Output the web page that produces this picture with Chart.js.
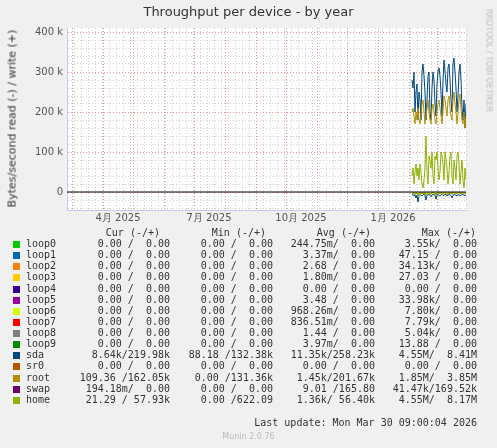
<!DOCTYPE html>
<html><head><meta charset="utf-8">
<script src="https://cdn.jsdelivr.net/npm/chart.js@4/dist/chart.umd.min.js"></script>
<style>
body{margin:0;background:#f0f0f0;width:497px;height:448px;overflow:hidden;font-family:"DejaVu Sans",sans-serif;}
#wrap{position:relative;width:497px;height:448px;}
canvas{position:absolute;left:0;top:0;}
.t{position:absolute;white-space:pre;color:#333;}
.m{font-family:"DejaVu Sans Mono",monospace;font-size:10px;}
.sq{position:absolute;width:7px;height:7px;}
</style></head><body>
<div id="wrap"><canvas id="c" width="497" height="448"></canvas></div>
<script>
// time axis: day index, day 0 = 2025-02-24
const startDay = 345; // 2026-02-04
const sdaWrite = [280,260,300,200,250,270,180,250,230,180,300,320,290,250,180,230,290,300,200,180,260,300,280,220,190,270,300,310,290,250,190,280,330,300,270,250,310,320,280,230,200,320,335,300,260,200,240,300,320,280,210,180,230,160,220];
const rootWrite = [200,210,190,170,200,180,210,180,170,190,220,230,200,170,190,210,230,200,180,170,210,220,200,180,170,200,220,230,210,190,170,200,240,230,210,190,230,240,210,190,180,230,250,220,200,170,200,230,245,210,180,170,200,160,190];
const homeWrite = [40,60,20,50,70,40,60,30,70,50,20,10,30,60,140,50,20,90,80,60,100,40,20,90,80,100,60,30,50,100,90,70,30,100,80,60,20,50,90,100,40,20,80,60,30,90,100,70,20,50,80,30,10,60,30];
const sdaRead = [-8,-6,-10,-7,-15,-8,-25,-9,-6,-8,-10,-7,-6,-8,-20,-9,-7,-6,-8,-12,-7,-6,-8,-9,-18,-7,-6,-8,-10,-7,-6,-9,-8,-6,-7,-10,-8,-6,-7,-9,-15,-8,-6,-7,-8,-10,-6,-7,-9,-8,-6,-7,-8,-9,-7];
const rootRead = [-2,-4,-1,-6,-2,-3,-8,-2,-1,-5,-2,-3,-1,-2,-10,-3,-1,-2,-4,-6,-2,-1,-3,-2,-7,-2,-1,-3,-4,-2,-1,-5,-2,-1,-3,-8,-2,-1,-3,-2,-6,-2,-1,-3,-2,-4,-1,-2,-3,-2,-1,-3,-2,-4,-2];
const homeRead = [-3,-1,-5,-2,-4,-1,-12,-3,-2,-1,-4,-2,-6,-1,-8,-2,-3,-1,-5,-2,-3,-1,-2,-10,-3,-1,-4,-2,-1,-3,-2,-6,-1,-3,-2,-1,-4,-2,-5,-1,-3,-2,-1,-4,-2,-1,-3,-2,-1,-5,-2,-3,-1,-2,-3];
const monthStarts = [5,36,66,97,127,158,189,219,250,280,311,342,370];
const labelDays = [51,142,234,326];
const labelTexts = ["4月 2025","7月 2025","10月 2025","1月 2026"];
const yTickLabels = {0:"0",100000:"100 k",200000:"200 k",300000:"300 k",400000:"400 k"};

const names=["loop0","loop1","loop2","loop3","loop4","loop5","loop6","loop7","loop8","loop9","sda","sr0","root","swap","home"];
const colors=["#00cc00","#0066b3","#ff8000","#ffcc00","#330099","#990099","#ccff00","#ff0000","#808080","#008f00","#00487d","#b35a00","#b38f00","#6b006b","#8fb300"];
const curCol=["0.00 /  0.00","0.00 /  0.00","0.00 /  0.00","0.00 /  0.00","0.00 /  0.00","0.00 /  0.00","0.00 /  0.00","0.00 /  0.00","0.00 /  0.00","0.00 /  0.00","8.64k/219.98k","0.00 /  0.00","109.36 /162.05k","194.18m/  0.00","21.29 / 57.93k"];
const minCol=["0.00 /  0.00","0.00 /  0.00","0.00 /  0.00","0.00 /  0.00","0.00 /  0.00","0.00 /  0.00","0.00 /  0.00","0.00 /  0.00","0.00 /  0.00","0.00 /  0.00","88.18 /132.38k","0.00 /  0.00","0.00 /131.36k","0.00 /  0.00","0.00 /622.09"];
const avgCol=["244.75m/  0.00","3.37m/  0.00","2.68 /  0.00","1.80m/  0.00","0.00 /  0.00","3.48 /  0.00","968.26m/  0.00","836.51m/  0.00","1.44 /  0.00","3.97m/  0.00","11.35k/258.23k","0.00 /  0.00","1.45k/201.67k","9.01 /165.80","1.36k/ 56.40k"];
const maxCol=["3.55k/  0.00","47.15 /  0.00","34.13k/  0.00","27.03 /  0.00","0.00 /  0.00","33.98k/  0.00","7.80k/  0.00","7.79k/  0.00","5.04k/  0.00","13.88 /  0.00","4.55M/  8.41M","0.00 /  0.00","1.85M/  3.85M","41.47k/169.52k","4.55M/  8.17M"];

const pts = (arr)=>arr.map((v,i)=>({x:startDay+i,y:v*1000}));
const xTicks=[];
for(let d=0;d<=399;d+=7) xTicks.push({value:d,kind:'w'});
monthStarts.forEach(d=>xTicks.push({value:d,kind:'m'}));
labelDays.forEach((d,i)=>xTicks.push({value:d,kind:'l',txt:labelTexts[i]}));
xTicks.sort((a,b)=>a.value-b.value);

new Chart(document.getElementById('c'),{
 type:'line',
 data:{datasets:[
  {data:[{x:0,y:0},{x:399,y:0}],borderColor:'#000',borderWidth:1},
  {data:pts(homeWrite),borderColor:'#8fb300'},
  {data:pts(homeRead),borderColor:'#8fb300'},
  {data:pts(rootWrite),borderColor:'#b38f00'},
  {data:pts(rootRead),borderColor:'#b38f00'},
  {data:pts(sdaWrite),borderColor:'#00487d'},
  {data:pts(sdaRead),borderColor:'#00487d'}
 ]},
 options:{animation:false,responsive:false,
  elements:{point:{radius:0},line:{borderWidth:1,tension:0}},
  plugins:{legend:{display:false},tooltip:{enabled:false}},
  layout:{padding:{left:0,right:31,top:28,bottom:218}},
  scales:{
   x:{type:'linear',min:0,max:399,
    afterBuildTicks:s=>{s.ticks=xTicks.map(t=>({value:t.value,kind:t.kind,txt:t.txt}));},
    afterFit:s=>{s.height=20;},
    ticks:{autoSkip:false,maxRotation:0,color:'#555',font:{family:'DejaVu Sans',size:10},padding:2,
      callback:function(v,i,ticks){const t=xTicks[i];return t&&t.kind==='l'?t.txt:'';}},
    grid:{drawTicks:false,lineWidth:1,
      color:c=>{const t=xTicks[c.index];if(!t)return 'transparent';return t.kind==='m'?'rgba(230,120,120,0.8)':t.kind==='w'?'#d0d0d0':'transparent';}},
    border:{color:'#c8c8f0',dash:[1,2]}
   },
   y:{min:-45000,max:410000,
    afterBuildTicks:s=>{const a=[];for(let v=-40000;v<=400000;v+=20000)a.push({value:v});s.ticks=a;},
    afterFit:s=>{s.width=67;},
    ticks:{autoSkip:false,color:'#555',font:{family:'DejaVu Sans',size:10},padding:4,
      callback:v=>yTickLabels[v]!==undefined?yTickLabels[v]:''},
    grid:{drawTicks:false,color:c=>c.tick&&c.tick.value%100000===0?'rgba(230,120,120,0.8)':'#d0d0d0'},
    border:{color:'#c8c8f0',dash:[1,2]}
   }
  }
 },
 plugins:[{id:'bg',beforeDraw:ch=>{const a=ch.chartArea,x=ch.ctx;x.save();x.fillStyle='#fff';x.fillRect(a.left,a.top,a.right-a.left,a.bottom-a.top);x.restore();}}]
});

const w=document.getElementById('wrap');
function add(html,style,cls){const d=document.createElement('div');d.className='t '+(cls||'');d.textContent=html;d.setAttribute('style',style);w.appendChild(d);return d;}
add('Throughput per device - by year','left:0;width:497px;text-align:center;top:4px;font-size:13px;color:#333;');
add('Bytes/second read (-) / write (+)','left:-88px;top:112px;width:200px;text-align:center;font-size:11px;transform:rotate(-90deg);color:#333;');
add('RRDTOOL / TOBI OETIKER','left:399px;top:56px;width:180px;text-align:center;font-size:8px;transform:rotate(90deg);color:#bbb;');
add('Cur (-/+)','right:337px;top:227px;','m');
add('Min (-/+)','right:231px;top:227px;','m');
add('Avg (-/+)','right:126px;top:227px;','m');
add('Max (-/+)','right:21px;top:227px;','m');
names.forEach((n,i)=>{
 const y=238+i*11.13;
 const s=document.createElement('div');s.className='sq';s.style.left='13px';s.style.top=(y+3)+'px';s.style.background=colors[i];w.appendChild(s);
 add(n,'left:26px;top:'+y+'px;','m');
 add(curCol[i],'right:327px;top:'+y+'px;','m');
 add(minCol[i],'right:224px;top:'+y+'px;','m');
 add(avgCol[i],'right:122px;top:'+y+'px;','m');
 add(maxCol[i],'right:20px;top:'+y+'px;','m');
});
add('Last update: Mon Mar 30 09:00:04 2026','right:20px;top:417px;','m');
add('Munin 2.0.76','left:0;width:497px;text-align:center;top:432px;font-size:8px;color:#bbb;');
</script></body></html>
